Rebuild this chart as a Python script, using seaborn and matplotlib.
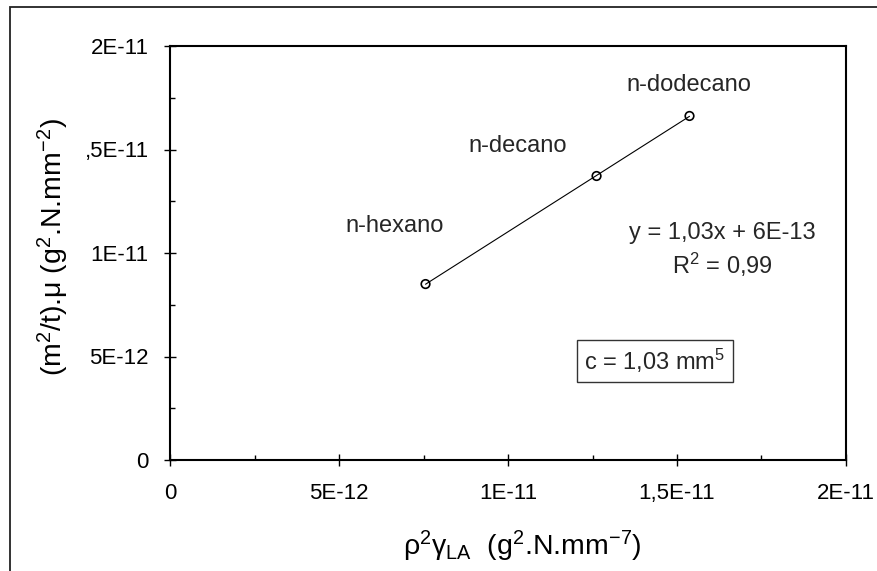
"""
plot.py - capillary rise: (m²/t).mu against rho²·gamma_LA for three alkanes,
with the linear fit and its slope c.
"""

import numpy as np
import pandas as pd
import matplotlib
matplotlib.use("Agg")
import matplotlib.pyplot as plt
from matplotlib.patches import Rectangle
from matplotlib.ticker import MultipleLocator, FixedLocator, FixedFormatter
import seaborn as sns

# ── Data ──────────────────────────────────────────────────────────────────────
liquids = ["n-hexano", "n-decano", "n-dodecano"]
rho2_gamma = [7.56e-12, 1.262e-11, 1.537e-11]      # x : rho^2 * gamma_LA
m2t_mu = [8.50e-12, 1.372e-11, 1.662e-11]          # y : (m^2/t) * mu

x_ticks = [0, 5e-12, 1e-11, 1.5e-11, 2e-11]
x_tick_labels = ["0", "5E-12", "1E-11", "1,5E-11", "2E-11"]
y_ticks = [0, 5e-12, 1e-11, 1.5e-11, 2e-11]
y_tick_labels = ["0", "5E-12", "1E-11", ",5E-11", "2E-11"]

fit_text = "y = 1,03x + 6E-13"
r2_text = "R$^2$ = 0,99"
c_text = "c = 1,03 mm$^5$"

df = pd.DataFrame({"liquid": liquids, "x": rho2_gamma, "y": m2t_mu})

# ── Style ─────────────────────────────────────────────────────────────────────
sns.set_theme(style="white")
plt.rcParams["font.family"] = ["Liberation Sans", "DejaVu Sans"]
plt.rcParams["mathtext.fontset"] = "custom"
plt.rcParams["mathtext.rm"] = "Liberation Sans"
plt.rcParams["mathtext.it"] = "Liberation Sans"
plt.rcParams["mathtext.default"] = "regular"

W, H = 877, 571
fig = plt.figure(figsize=(W / 100, H / 100), dpi=100)
ax = fig.add_axes([170 / W, 1 - 460 / H, (846 - 170) / W, (460 - 46) / H])

# outer frame (only left and top edges visible in the original)
fig.add_artist(Rectangle((10 / W, -0.2), 1.5, 1.2 - 7 / H,
                         transform=fig.transFigure, fill=False,
                         lw=1.3, edgecolor="#222222"))

# ── Fit line + points ─────────────────────────────────────────────────────────
sns.regplot(data=df, x="x", y="y", ci=None, truncate=True, ax=ax,
            color="black", marker="o",
            scatter_kws=dict(facecolors="none", edgecolors="black",
                             s=38, linewidths=1.2, alpha=1, zorder=3),
            line_kws=dict(lw=0.8, color="black"))

ax.set_xlim(0, 2e-11)
ax.set_ylim(0, 2e-11)

ax.xaxis.set_major_locator(FixedLocator(x_ticks))
ax.xaxis.set_major_formatter(FixedFormatter(x_tick_labels))
ax.yaxis.set_major_locator(FixedLocator(y_ticks))
ax.yaxis.set_major_formatter(FixedFormatter(y_tick_labels))
ax.xaxis.set_minor_locator(MultipleLocator(2.5e-12))
ax.yaxis.set_minor_locator(MultipleLocator(2.5e-12))

ax.tick_params(which="major", direction="inout", length=8.5, width=1,
               color="black", labelcolor="black", labelsize=16)
ax.tick_params(axis="x", which="major", pad=12)
ax.tick_params(axis="y", which="major", pad=11)
ax.tick_params(which="minor", direction="in", length=3.8, width=1, color="black")
ax.tick_params(bottom=True, left=True, which="both")

for s in ax.spines.values():
    s.set_color("black")
    s.set_linewidth(1.5)

ax.set_xlabel(r"$\rho^2\gamma_{LA}$  (g$^2$.N.mm$^{-7}$)", fontsize=20.5, color="black")
ax.set_ylabel(r"(m$^2$/t).μ (g$^2$.N.mm$^{-2}$)", fontsize=20.5, color="black")
ax.xaxis.set_label_coords((522 - 170) / (846 - 170), -(546 - 460) / (460 - 46))
ax.yaxis.set_label_coords(-(170 - 53) / (846 - 170), (460 - 247) / (460 - 46))
ax.xaxis.label.set_va("center")
ax.yaxis.label.set_va("center")

# ── Annotations ───────────────────────────────────────────────────────────────
def px(xp, yp):
    """pixel position of the original image -> axes fraction"""
    return (xp - 170) / (846 - 170), (460 - yp) / (460 - 46)

label_pos = [(395, 226), (518, 146), (689, 85)]
for name, (xp, yp) in zip(liquids, label_pos):
    ax.text(*px(xp, yp), name, transform=ax.transAxes, ha="center",
            va="center", fontsize=17)

ax.text(*px(722, 233), fit_text, transform=ax.transAxes, ha="center",
        va="center", fontsize=17)
ax.text(*px(722, 265), r2_text, transform=ax.transAxes, ha="center",
        va="center", fontsize=17)
ax.text(*px(655, 361), c_text, transform=ax.transAxes, ha="center",
        va="center", fontsize=17,
        bbox=dict(boxstyle="square,pad=0.3", fc="white", ec="#333333", lw=1))

fig.savefig("out.png", dpi=100)
plt.close(fig)
